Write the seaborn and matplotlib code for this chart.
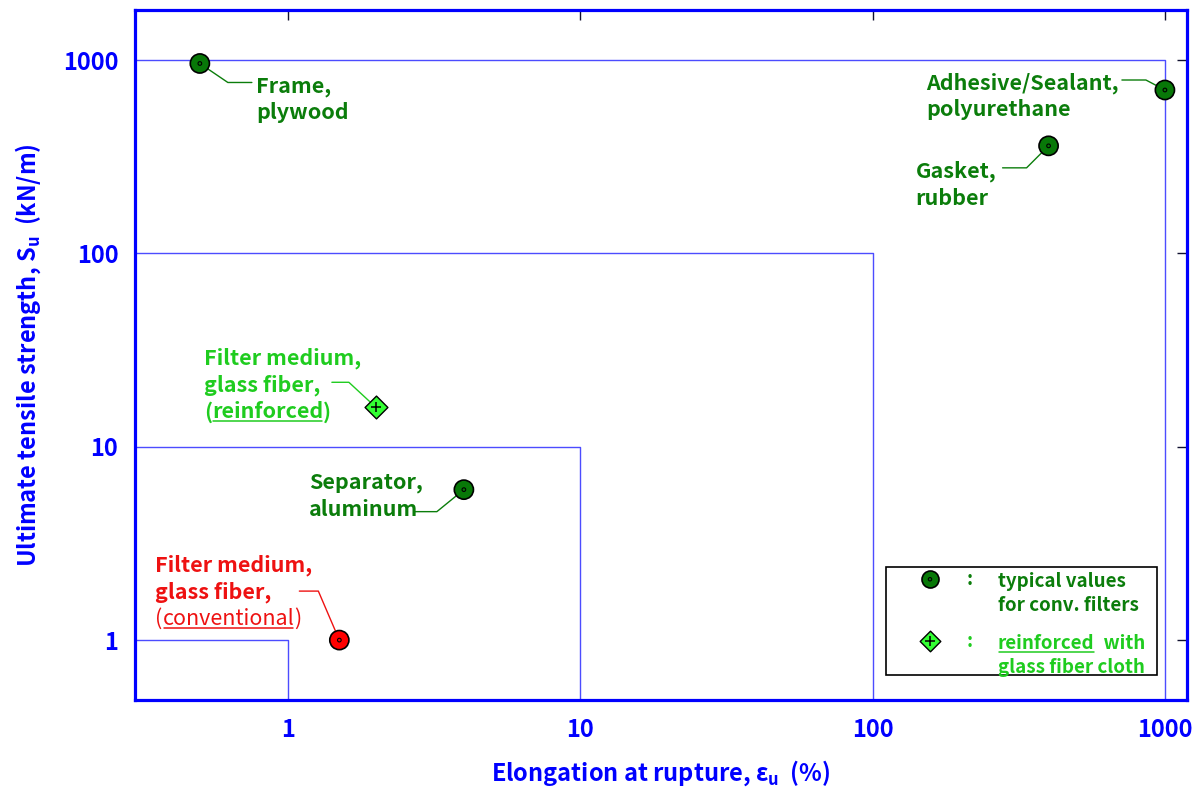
import matplotlib
matplotlib.use("Agg")
import matplotlib.pyplot as plt
from matplotlib.transforms import IdentityTransform
from matplotlib.ticker import NullLocator, FixedLocator, FixedFormatter
import numpy as np
import pandas as pd
import seaborn as sns

# ---- data -------------------------------------------------------------
materials = ["Frame, plywood", "Adhesive/Sealant, polyurethane", "Gasket, rubber",
             "Filter medium, glass fiber (reinforced)", "Separator, aluminum",
             "Filter medium, glass fiber (conventional)"]
elongation = [0.5, 1000, 400, 2, 4, 1.5]          # %
strength = [960, 700, 360, 16, 6, 1]              # kN/m
kind = ["typical", "typical", "typical", "reinforced", "typical", "conventional"]
bounds = [1, 10, 100, 1000]
tick_labels = ["1", "10", "100", "1000"]

# label lines for each material: list of lines, each a list of (text, underline, weight)
label_lines = [
    [[("Frame,", False, "bold")], [("plywood", False, "bold")]],
    [[("Adhesive/Sealant,", False, "bold")], [("polyurethane", False, "bold")]],
    [[("Gasket,", False, "bold")], [("rubber", False, "bold")]],
    [[("Filter medium,", False, "bold")], [("glass fiber,", False, "bold")],
     [("(", False, "bold"), ("reinforced", True, "bold"), (")", False, "bold")]],
    [[("Separator,", False, "bold")], [("aluminum", False, "bold")]],
    [[("Filter medium,", False, "bold")], [("glass fiber,", False, "bold")],
     [("(", False, "normal"), ("conventional", True, "normal"), (")", False, "normal")]],
]
# text placement in pixels relative to the marker (dx right, dy down), first-line baseline
label_offsets = [(56, 29), (-239, -1), (-133, 32), (-172, -43), (-155, -1), (-184, -69)]
line_gap = 27
# leader polyline vertices (pixels relative to the marker, dy down)
leaders = [
    [(0, 0), (28, 19), (52, 19)],
    [(0, 0), (-19, -10), (-43, -10)],
    [(0, 0), (-22, 22), (-46, 22)],
    [(0, 0), (-27, -25), (-44, -25)],
    [(0, 0), (-27, 22), (-50, 22)],
    [(0, 0), (-21, -49), (-40, -49)],
]

DARK = "#0b7d0b"
LIGHT = "#1fcc1f"
RED = "#ee1111"
BLUE = "#0000ff"
BOX = "#4c4cff"
fills = {"typical": "#087808", "reinforced": "#33ff33", "conventional": "#ff0000"}
text_colors = {"typical": DARK, "reinforced": LIGHT, "conventional": RED}

sns.set_theme(style="white")
FONT = ["Noto Sans CJK KR", "DejaVu Sans"]
plt.rcParams["font.family"] = FONT
plt.rcParams["mathtext.default"] = "regular"

W, H = 1198, 790
fig = plt.figure(figsize=(W / 100, H / 100), dpi=100)
ax = fig.add_axes([135 / W, 1 - 700 / H, 1052 / W, 690 / H])
ax.set_xscale("log")
ax.set_yscale("log")
XLIM = (0.30, 1190)
YLIM = (0.49, 1815)
ax.set_xlim(*XLIM)
ax.set_ylim(*YLIM)

# nested strength/elongation boundaries
for b in bounds:
    ax.plot([XLIM[0], b, b], [b, b, YLIM[0]], color=BOX, lw=1.0, zorder=1)

df = pd.DataFrame({"material": materials, "elongation": elongation,
                   "strength": strength, "kind": kind})
circ = df[df.kind != "reinforced"]
diam = df[df.kind == "reinforced"]

sns.scatterplot(data=circ, x="elongation", y="strength", hue="kind",
                palette=fills, marker="o", s=190, edgecolor="black",
                linewidth=1.2, legend=False, ax=ax, zorder=4)
sns.scatterplot(data=diam, x="elongation", y="strength", hue="kind",
                palette=fills, marker="D", s=135, edgecolor="black",
                linewidth=1.0, legend=False, ax=ax, zorder=4)
ax.scatter(circ.elongation, circ.strength, marker="o", s=7, facecolor="none",
           edgecolor="black", linewidth=0.8, zorder=5)
ax.scatter(diam.elongation, diam.strength, marker="+", s=55, color="black",
           linewidth=1.1, zorder=5)

# axes styling
for sp in ax.spines.values():
    sp.set_color(BLUE)
    sp.set_linewidth(2.3)
    sp.set_visible(True)
ax.xaxis.set_major_locator(FixedLocator(bounds))
ax.xaxis.set_major_formatter(FixedFormatter(tick_labels))
ax.yaxis.set_major_locator(FixedLocator(bounds))
ax.yaxis.set_major_formatter(FixedFormatter(tick_labels))
ax.xaxis.set_minor_locator(NullLocator())
ax.yaxis.set_minor_locator(NullLocator())
ax.tick_params(axis="both", which="major", direction="in", length=7, width=1,
               color="#101030", top=True, right=True, labelcolor=BLUE,
               labelsize=17)
ax.tick_params(axis="x", pad=13)
ax.tick_params(axis="y", pad=12)
for lab in ax.get_xticklabels() + ax.get_yticklabels():
    lab.set_fontweight("bold")

ax.set_xlabel("Elongation at rupture, ε$_\\mathregular{u}$  (%)", color=BLUE,
              fontsize=17, fontweight="bold", labelpad=12)
ax.set_ylabel("Ultimate tensile strength, S$_\\mathregular{u}$  (kN/m)", color=BLUE,
              fontsize=17, fontweight="bold", labelpad=14)

fig.canvas.draw()
renderer = fig.canvas.get_renderer()
to_data = ax.transData.inverted()


def draw_parts(X, Y, parts, color, size):
    """Draw one text line starting at display point (X, Y) on its baseline."""
    x = X
    for s, under, weight in parts:
        t = ax.text(x, Y, s, transform=IdentityTransform(), color=color,
                    fontsize=size, fontweight=weight, ha="left", va="baseline",
                    family=FONT, zorder=6)
        bb = t.get_window_extent(renderer)
        if under:
            ax.plot([bb.x0 + 1, bb.x1 - 1], [Y - 3, Y - 3], color=color, lw=1.1,
                    transform=IdentityTransform(), clip_on=False, zorder=6)
        x = bb.x1


for i in range(len(materials)):
    X, Y = ax.transData.transform((elongation[i], strength[i]))
    col = text_colors[kind[i]]
    dx, dy = label_offsets[i]
    for j, parts in enumerate(label_lines[i]):
        draw_parts(X + dx, Y - dy - j * line_gap, parts, col, 15.5)
    pts = np.array([[X + px, Y - py] for px, py in leaders[i]])
    dat = to_data.transform(pts)
    ax.plot(dat[:, 0], dat[:, 1], color=col, lw=1.0, zorder=2)

# key box in the lower right corner
ax.add_patch(plt.Rectangle((0.714, 0.036), 0.2575, 0.157, transform=ax.transAxes,
                           facecolor="white", edgecolor="black", lw=1.2, zorder=3))
key = [("typical", 0.7557, 0.175, [[("typical values", False, "bold")],
                                    [("for conv. filters", False, "bold")]]),
       ("reinforced", 0.7557, 0.0855, [[("reinforced", True, "bold"), ("  with", False, "bold")],
                                        [("glass fiber cloth", False, "bold")]])]
for k, fx, fy, lines in key:
    X, Y = ax.transAxes.transform((fx, fy))
    px, py = to_data.transform((X, Y))
    if k == "typical":
        ax.scatter([px], [py], marker="o", s=150, color=fills[k], edgecolor="black",
                   linewidth=1.2, zorder=4, clip_on=False)
        ax.scatter([px], [py], marker="o", s=6, facecolor="none", edgecolor="black",
                   linewidth=0.8, zorder=5, clip_on=False)
    else:
        ax.scatter([px], [py], marker="D", s=110, color=fills[k], edgecolor="black",
                   linewidth=1.0, zorder=4, clip_on=False)
        ax.scatter([px], [py], marker="+", s=45, color="black", linewidth=1.1,
                   zorder=5, clip_on=False)
    col = text_colors[k]
    ax.text(X + 40, Y - 6, ":", transform=IdentityTransform(), color=col,
            fontsize=13.5, fontweight="bold", ha="center", va="baseline", zorder=6)
    for j, parts in enumerate(lines):
        draw_parts(X + 68, Y - 8 - j * 24, parts, col, 13.5)

ax.set_xlim(*XLIM)
ax.set_ylim(*YLIM)
fig.savefig("out.png", dpi=100)
